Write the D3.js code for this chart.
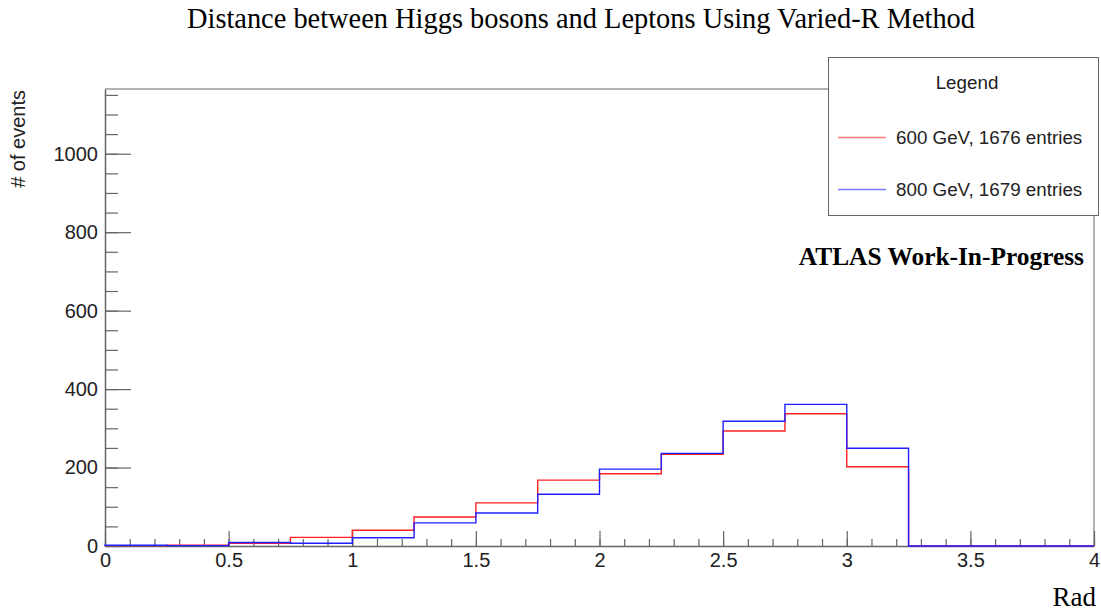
<!DOCTYPE html>
<html>
<head>
<meta charset="utf-8">
<script src="https://cdn.jsdelivr.net/npm/d3@7"></script>
<style>
    body { margin: 0; background: #fff; }
    svg { display: block; }
</style>
</head>
<body>
<div id="chart"></div>
<script>
// bin edges (Rad), 16 bins of 0.25
const binEdges = [0, 0.25, 0.5, 0.75, 1, 1.25, 1.5, 1.75, 2, 2.25, 2.5, 2.75, 3, 3.25, 3.5, 3.75, 4];
const counts600 = [1, 2, 7, 22, 40, 74, 110, 168, 184, 234, 293, 337, 202, 0, 0, 0];
const counts800 = [2, 1, 9, 7, 21, 59, 84, 132, 196, 236, 318, 361, 249, 0, 0, 0];
const seriesNames = ['600 GeV, 1676 entries', '800 GeV, 1679 entries'];
const xMajorTicks = [0, 0.5, 1, 1.5, 2, 2.5, 3, 3.5, 4];
const yMajorTicks = [0, 200, 400, 600, 800, 1000];

const W = 1101, H = 614;
const SANS = '"Liberation Sans", Arial, sans-serif';
const SERIF = '"Liberation Serif", "Times New Roman", serif';
const AXIS_COLOR = '#666';

const svg = d3.select('#chart').append('svg').attr('width', W).attr('height', H);

const x = d3.scaleLinear().domain([0, 4]).range([105, 1094]);
const y = d3.scaleLinear().domain([0, 1165]).range([546, 89]);

// frame (top and right)
svg.append('path')
    .attr('d', `M${x(0)},${y(1165)}H${x(4)}V${y(0)}`)
    .attr('fill', 'none')
    .attr('stroke', AXIS_COLOR)
    .attr('stroke-width', 1);

// x axis: minor ticks then major ticks, pointing up
const xMinor = d3.range(0, 41).map((i) => i / 10);
svg.append('g')
    .attr('transform', `translate(0, ${y(0)})`)
    .call(d3.axisBottom(x).tickValues(xMinor).tickSize(-7).tickFormat(''))
    .call((g) => g.select('.domain').remove());
svg.append('g')
    .attr('class', 'xaxis')
    .attr('transform', `translate(0, ${y(0)})`)
    .call(d3.axisBottom(x).tickValues(xMajorTicks).tickSize(-15).tickSizeOuter(0).tickPadding(6).tickFormat((d) => String(d)));

// y axis: ticks pointing right
const yMinor = d3.range(0, 1151, 50);
svg.append('g')
    .attr('transform', `translate(${x(0)}, 0)`)
    .call(d3.axisLeft(y).tickValues(yMinor).tickSize(-13).tickFormat(''))
    .call((g) => g.select('.domain').remove());
svg.append('g')
    .attr('class', 'yaxis')
    .attr('transform', `translate(${x(0)}, 0)`)
    .call(d3.axisLeft(y).tickValues(yMajorTicks).tickSize(-26).tickSizeOuter(0).tickPadding(7).tickFormat((d) => String(d)));

svg.selectAll('.tick line').attr('stroke', AXIS_COLOR).attr('stroke-width', 1.2);
svg.selectAll('.domain').attr('stroke', AXIS_COLOR).attr('stroke-width', 1.5);
svg.selectAll('.xaxis text, .yaxis text')
    .style('font-family', SANS)
    .style('font-size', '20px')
    .attr('fill', '#222');
svg.selectAll('.xaxis text').attr('dy', '0.74em');

// histogram step outline
const stepPath = (counts) => {
    const p = d3.path();
    p.moveTo(x(binEdges[0]), y(0));
    counts.forEach((c, i) => {
        p.lineTo(x(binEdges[i]), y(c));
        p.lineTo(x(binEdges[i + 1]), y(c));
    });
    p.lineTo(x(binEdges[binEdges.length - 1]), y(0));
    return p.toString();
};

svg.append('path')
    .attr('d', stepPath(counts600))
    .attr('fill', 'none')
    .attr('stroke', '#ff2020')
    .attr('stroke-width', 1.4);
svg.append('path')
    .attr('d', stepPath(counts800))
    .attr('fill', 'none')
    .attr('stroke', '#2020ff')
    .attr('stroke-width', 1.4);

// title
svg.append('text')
    .attr('x', 581)
    .attr('y', 28)
    .attr('text-anchor', 'middle')
    .style('font-family', SERIF)
    .style('font-size', '28.4px')
    .text('Distance between Higgs bosons and Leptons Using Varied-R Method');

// axis labels
svg.append('text')
    .attr('transform', 'translate(25, 90) rotate(-90)')
    .attr('text-anchor', 'end')
    .style('font-family', SANS)
    .style('font-size', '20px')
    .attr('fill', '#222')
    .text('# of events');

svg.append('text')
    .attr('x', 1096)
    .attr('y', 606)
    .attr('text-anchor', 'end')
    .style('font-family', SERIF)
    .style('font-size', '27px')
    .text('Rad');

// ATLAS label
svg.append('text')
    .attr('x', 1084)
    .attr('y', 265)
    .attr('text-anchor', 'end')
    .style('font-family', SERIF)
    .style('font-size', '25.4px')
    .style('font-weight', 'bold')
    .text('ATLAS Work-In-Progress');

// legend
const legend = svg.append('g');
legend.append('rect')
    .attr('x', 828.5)
    .attr('y', 57.5)
    .attr('width', 270)
    .attr('height', 158)
    .attr('fill', '#fff')
    .attr('stroke', AXIS_COLOR)
    .attr('stroke-width', 1);
legend.append('text')
    .attr('x', 967)
    .attr('y', 89)
    .attr('text-anchor', 'middle')
    .style('font-family', SANS)
    .style('font-size', '18.8px')
    .attr('fill', '#222')
    .text('Legend');

const legendColors = ['#ff7a7a', '#7a7aff'];
seriesNames.forEach((name, i) => {
    const ly = 137.5 + i * 52;
    legend.append('line')
        .attr('x1', 838).attr('x2', 886)
        .attr('y1', ly).attr('y2', ly)
        .attr('stroke', legendColors[i])
        .attr('stroke-width', 1.6);
    legend.append('text')
        .attr('x', 896)
        .attr('y', ly + 6.5)
        .style('font-family', SANS)
        .style('font-size', '18.8px')
        .attr('fill', '#222')
        .text(name);
});
</script>
</body>
</html>
